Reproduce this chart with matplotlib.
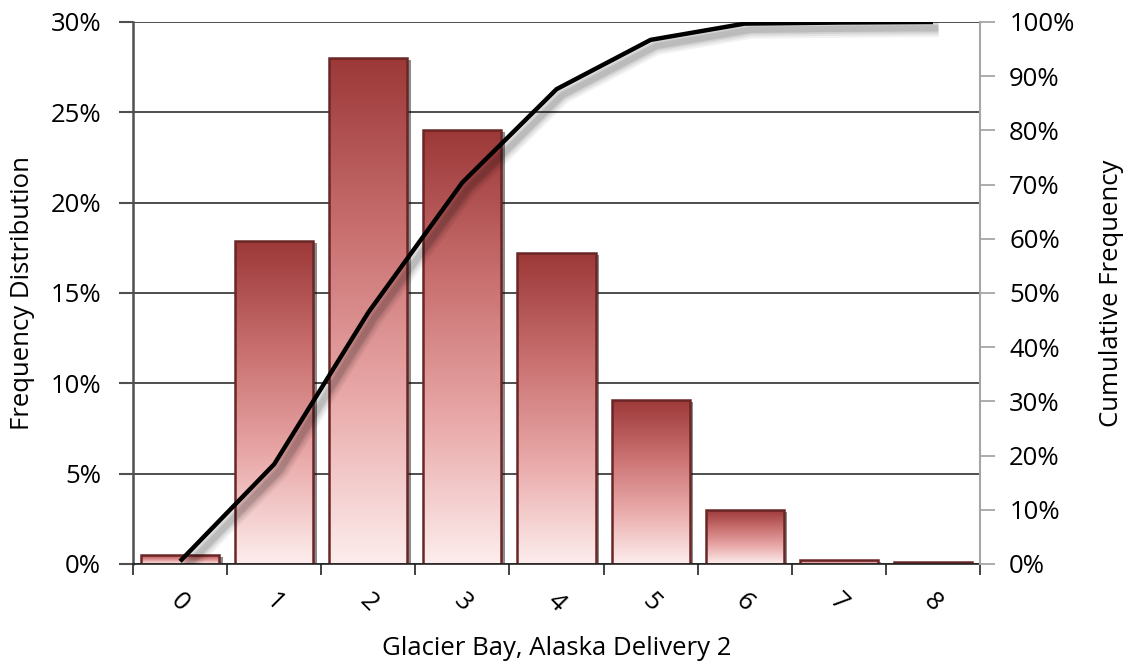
import numpy as np
import matplotlib
matplotlib.use("Agg")
import matplotlib.pyplot as plt
import matplotlib.patheffects as pe
from matplotlib.colors import LinearSegmentedColormap
from matplotlib.ticker import FixedLocator, PercentFormatter

plt.rcParams['font.family'] = ['Open Sans', 'DejaVu Sans']

# Frequency distribution (percent) per category
categories = ['0', '1', '2', '3', '4', '5', '6', '7', '8']
frequency = [0.5, 17.9, 28.0, 24.0, 17.2, 9.1, 3.0, 0.2, 0.1]
cumulative = np.minimum(np.cumsum(frequency), 100.0)

left_ticks = [0, 5, 10, 15, 20, 25, 30]
right_ticks = [0, 10, 20, 30, 40, 50, 60, 70, 80, 90, 100]

FS = 18.5

fig = plt.figure(figsize=(11.3, 6.66), dpi=100)
ax = fig.add_axes([0.1177, 0.1532, 0.7496, 0.8138])
x = np.arange(len(categories))

ax.set_xlim(-0.5, len(categories) - 0.5)
ax.set_ylim(0, 30)
ax.set_autoscale_on(False)

# horizontal gridlines
ax.set_yticks(left_ticks)
ax.yaxis.set_major_formatter(PercentFormatter(decimals=0))
ax.grid(axis='y', color='#1e1e1e', linewidth=1.1, zorder=0)
ax.set_axisbelow(True)

# bars: shadowed base, gradient fill, outline
bar_w = 0.83
base = ax.bar(x, frequency, width=bar_w, color='white', edgecolor='none', zorder=2,
              path_effects=[pe.SimplePatchShadow(offset=(2.5, -1.5), shadow_rgbFace='black', alpha=0.45),
                            pe.Normal()])
cmap = LinearSegmentedColormap.from_list('bar', ['#fdeded', '#e9a8a8', '#c86e6e', '#9c3838'])
grad = np.linspace(0, 1, 256).reshape(-1, 1)
for rect in base:
    x0, w, h = rect.get_x(), rect.get_width(), rect.get_height()
    im = ax.imshow(grad, cmap=cmap, origin='lower', aspect='auto',
                   extent=[x0, x0 + w, 0, h], zorder=2.1, interpolation='bilinear')
    im.set_clip_path(rect)
ax.bar(x, frequency, width=bar_w, facecolor='none', edgecolor='#6a2626', linewidth=1.8, zorder=2.2)

# x axis: labels at centers, ticks at category boundaries
ax.set_xticks(x)
ax.set_xticklabels(categories, rotation=-45, ha='center', va='top', fontsize=FS)
ax.xaxis.set_minor_locator(FixedLocator(np.arange(-0.5, len(categories), 1.0)))
ax.tick_params(axis='x', which='major', length=0, pad=18)
ax.tick_params(axis='x', which='minor', length=8, width=1.2, color='#222222', direction='out')
ax.tick_params(axis='y', length=10, width=1.5, color='#505050', labelsize=FS, pad=13)

for s in ['top', 'right']:
    ax.spines[s].set_visible(False)
ax.spines['left'].set_color('#505050')
ax.spines['left'].set_linewidth(1.8)
ax.spines['bottom'].set_color('#222222')
ax.spines['bottom'].set_linewidth(1.2)

ax.set_xlabel('Glacier Bay, Alaska Delivery 2', fontsize=FS)
ax.xaxis.set_label_coords(0.5, -0.132)
ax.set_ylabel('Frequency Distribution', fontsize=FS)
ax.yaxis.set_label_coords(-0.116, 0.5)

# secondary axis for cumulative frequency
ax2 = ax.twinx()
ax2.set_ylim(0, 100)
ax2.set_yticks(right_ticks)
ax2.yaxis.set_major_formatter(PercentFormatter(decimals=0))
ax2.tick_params(axis='y', length=11, width=1.3, color='#a6a6a6', labelsize=FS, pad=10)
for s in ['top', 'left', 'bottom']:
    ax2.spines[s].set_visible(False)
ax2.spines['right'].set_color('#a6a6a6')
ax2.spines['right'].set_linewidth(1.5)
ax2.set_ylabel('Cumulative Frequency', fontsize=FS)
ax2.yaxis.set_label_coords(1.141, 0.5)

shadow = [pe.SimpleLineShadow(offset=(4, -4.5), shadow_color='#000000', alpha=a, linewidth=lw)
          for a, lw in [(0.05, 13), (0.06, 10), (0.08, 7), (0.1, 4.5)]]
ax2.plot(x, cumulative, color='black', linewidth=3.2, solid_capstyle='butt', zorder=5,
         path_effects=shadow + [pe.Normal()])

fig.savefig('out.png', dpi=100)
